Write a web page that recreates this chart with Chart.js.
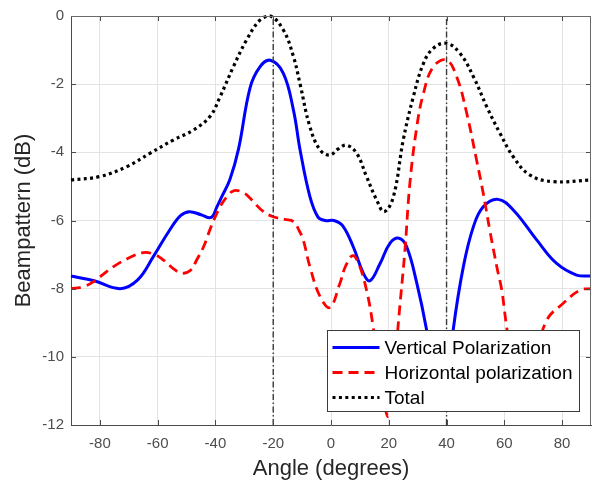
<!DOCTYPE html>
<html>
<head>
<meta charset="utf-8">
<script src="https://cdn.jsdelivr.net/npm/chart.js@4/dist/chart.umd.min.js"></script>
<style>
  html, body { margin: 0; padding: 0; background: #ffffff; }
  canvas { display: block; }
</style>
</head>
<body>
<canvas id="c" width="592" height="481"></canvas>
<script>
// ---- data ----
const vertAngles = [-90,-82,-73,-67,-61.5,-56,-52,-49,-45,-41.5,-39.5,-37.8,-35,-32,-28,-24.6,-21,-16.5,-13,-10.7,-7.3,-4.5,-2,1,4,7.7,11.2,13.5,17,20.4,23.5,26.2,29.7,33.1,35.5,38,40.5,42.3,45.8,49.3,52.7,57.8,63.1,71.2,78.1,85,90];
const vertValues = [-7.63,-7.77,-8.0,-7.75,-7.06,-6.3,-5.85,-5.74,-5.83,-5.91,-5.6,-5.3,-4.8,-3.9,-2.1,-1.49,-1.3,-1.68,-2.76,-3.93,-5.3,-5.9,-6.0,-6.0,-6.15,-6.77,-7.55,-7.77,-7.26,-6.67,-6.52,-6.77,-7.84,-9.21,-10.5,-11.3,-10.8,-9.21,-7.36,-6.18,-5.6,-5.38,-5.69,-6.57,-7.26,-7.6,-7.63];

const horzAngles = [-90,-86,-82.3,-75.4,-70,-65,-61,-58,-54,-51.5,-48.5,-46.5,-44,-41.5,-38.4,-36,-33.5,-30,-28,-23.4,-20,-16,-13,-11,-9.6,-7.3,-3.8,-0.4,3.1,5,7.5,9.5,12.3,14.6,16.5,18.3,19.8,21.3,23.3,25.6,27.3,29.7,32,35.4,40,43.5,47,50.4,52.7,55,57.5,59.1,60.8,63,66,68.5,71,74.7,80.4,86.2,90];
const horzValues = [-8.0,-7.95,-7.8,-7.36,-7.1,-6.94,-7.0,-7.16,-7.45,-7.55,-7.45,-7.16,-6.75,-6.18,-5.6,-5.3,-5.12,-5.2,-5.35,-5.74,-5.89,-5.97,-6.03,-6.3,-6.57,-7.36,-8.23,-8.55,-7.84,-7.35,-7.03,-7.25,-8.04,-9.12,-10.3,-11.3,-11.75,-11.2,-9.02,-6.87,-4.91,-3.25,-2.27,-1.49,-1.29,-1.78,-2.86,-4.23,-5.2,-6.3,-7.4,-8.04,-9.12,-10.2,-11.0,-10.8,-10.0,-8.92,-8.43,-8.04,-8.0];

const totalAngles = [-90,-80,-70.7,-62.7,-54.6,-47.7,-41.9,-38.4,-33.8,-29.2,-24.6,-21,-16.5,-13,-10.7,-7.3,-3.8,-0.4,2.5,5.4,8.9,12.3,15.8,18.4,21.6,25,28.5,32,35.4,40,44.7,49.3,53.9,58.5,63.1,68.9,77,90];
const totalValues = [-4.81,-4.71,-4.42,-4.03,-3.64,-3.35,-2.95,-2.37,-1.49,-0.7,-0.12,0,-0.41,-1.19,-2.0,-3.25,-3.93,-4.08,-3.9,-3.79,-4.03,-4.71,-5.4,-5.74,-5.3,-3.64,-2.37,-1.39,-0.95,-0.8,-1.1,-1.78,-2.66,-3.44,-4.13,-4.67,-4.86,-4.81];

const steerAngles = [-20, 40];          // dash-dot reference lines
const xTickValues = [-80,-60,-40,-20,0,20,40,60,80];
const yTickValues = [-12,-10,-8,-6,-4,-2,0];
const seriesNames = ['Vertical Polarization', 'Horizontal polarization', 'Total'];

// ---- build datasets ----
const pts = (xs, ys) => xs.map((x, i) => ({x, y: ys[i]}));
const FONT = "'Liberation Sans', Arial, sans-serif";

const styles = {
  vert:  {color: '#0000ff', width: 3,   dash: []},
  horz:  {color: '#ff0000', width: 2.8, dash: [10, 6]},
  total: {color: '#000000', width: 3.2, dash: [3, 3.4]}
};

const datasets = [];
steerAngles.forEach(a => datasets.push({
  label: 'steer', data: [{x: a, y: -12}, {x: a, y: 0}],
  borderColor: '#3a3a3a', borderWidth: 1.4, borderDash: [6, 2.5, 1.5, 2.5],
  pointRadius: 0, tension: 0, clip: false
}));
datasets.push({label: seriesNames[2], data: pts(totalAngles, totalValues),
  borderColor: styles.total.color, borderWidth: styles.total.width, borderDash: styles.total.dash,
  borderCapStyle: 'butt', pointRadius: 0, tension: 0.4, clip: false});
datasets.push({label: seriesNames[1], data: pts(horzAngles, horzValues),
  borderColor: styles.horz.color, borderWidth: styles.horz.width, borderDash: styles.horz.dash,
  pointRadius: 0, tension: 0.4, clip: false});
datasets.push({label: seriesNames[0], data: pts(vertAngles, vertValues),
  borderColor: styles.vert.color, borderWidth: styles.vert.width, borderDash: styles.vert.dash,
  pointRadius: 0, tension: 0.4, clip: false});

// ---- box, inward ticks and in-plot legend ----
const boxPlugin = {
  id: 'boxLegend',
  afterDatasetsDraw(chart) {
    const {ctx, chartArea: a, scales: {x, y}} = chart;
    ctx.save();
    ctx.setLineDash([]);
    ctx.strokeStyle = '#4a4a4a';
    ctx.lineWidth = 1;
    ctx.beginPath();
    xTickValues.forEach(v => {
      const px = Math.round(x.getPixelForValue(v)) + 0.5;
      ctx.moveTo(px, a.bottom); ctx.lineTo(px, a.bottom - 5);
      ctx.moveTo(px, a.top); ctx.lineTo(px, a.top + 5);
    });
    yTickValues.forEach(v => {
      const py = Math.round(y.getPixelForValue(v)) + 0.5;
      ctx.moveTo(a.left, py); ctx.lineTo(a.left + 5, py);
      ctx.moveTo(a.right, py); ctx.lineTo(a.right - 5, py);
    });
    ctx.stroke();
    // top & right box edges
    ctx.strokeStyle = '#6a6a6a';
    ctx.beginPath();
    ctx.moveTo(a.left, a.top + 0.5); ctx.lineTo(a.right, a.top + 0.5);
    ctx.moveTo(a.right - 0.5, a.top); ctx.lineTo(a.right - 0.5, a.bottom);
    ctx.stroke();

    // legend
    const lw = 252, lh = 81;
    const lx = Math.round(a.right - 12 - lw) + 0.5;
    const ly = Math.round(a.bottom - 14 - lh) + 0.5;
    ctx.fillStyle = '#ffffff';
    ctx.fillRect(lx, ly, lw, lh);
    ctx.strokeStyle = '#3c3c3c';
    ctx.lineWidth = 1;
    ctx.strokeRect(lx, ly, lw, lh);
    const entries = [styles.vert, styles.horz, styles.total];
    ctx.font = "19px " + FONT;
    ctx.textBaseline = 'middle';
    ctx.textAlign = 'left';
    entries.forEach((s, i) => {
      const cy = ly + 17 + i * 25;
      ctx.beginPath();
      ctx.strokeStyle = s.color;
      ctx.lineWidth = s.width;
      ctx.setLineDash(s.dash);
      ctx.lineCap = 'butt';
      ctx.moveTo(lx + 5, cy); ctx.lineTo(lx + 52, cy);
      ctx.stroke();
      ctx.setLineDash([]);
      ctx.fillStyle = '#000000';
      ctx.fillText(seriesNames[i], lx + 57, cy + 1);
    });
    ctx.restore();
  }
};

new Chart(document.getElementById('c'), {
  type: 'line',
  data: {datasets},
  options: {
    responsive: false,
    animation: false,
    devicePixelRatio: 1,
    layout: {padding: {top: 16, right: 1, left: 0, bottom: 0}},
    plugins: {legend: {display: false}, tooltip: {enabled: false}},
    scales: {
      x: {
        type: 'linear', min: -90, max: 90,
        afterBuildTicks: s => { s.ticks = xTickValues.map(v => ({value: v})); },
        afterFit: s => { s.height = 56; },
        grid: {color: '#e3e3e3', lineWidth: 1, drawTicks: false},
        border: {display: true, color: '#4a4a4a', width: 1},
        ticks: {padding: 10, color: '#4d4d4d', font: {family: FONT, size: 15}, maxRotation: 0},
        title: {display: true, text: 'Angle (degrees)', color: '#262626',
                font: {family: FONT, size: 22, lineHeight: 1}, padding: {top: 0, bottom: 1}}
      },
      y: {
        type: 'linear', min: -12, max: 0,
        afterBuildTicks: s => { s.ticks = yTickValues.map(v => ({value: v})); },
        afterFit: s => { s.width = 71; },
        grid: {color: '#e3e3e3', lineWidth: 1, drawTicks: false},
        border: {display: true, color: '#4a4a4a', width: 1},
        ticks: {padding: 7, color: '#4d4d4d', font: {family: FONT, size: 15}},
        title: {display: true, text: 'Beampattern (dB)', color: '#262626',
                font: {family: FONT, size: 22, lineHeight: 1}, padding: {top: 13, bottom: 0}}
      }
    }
  },
  plugins: [boxPlugin]
});
</script>
</body>
</html>
